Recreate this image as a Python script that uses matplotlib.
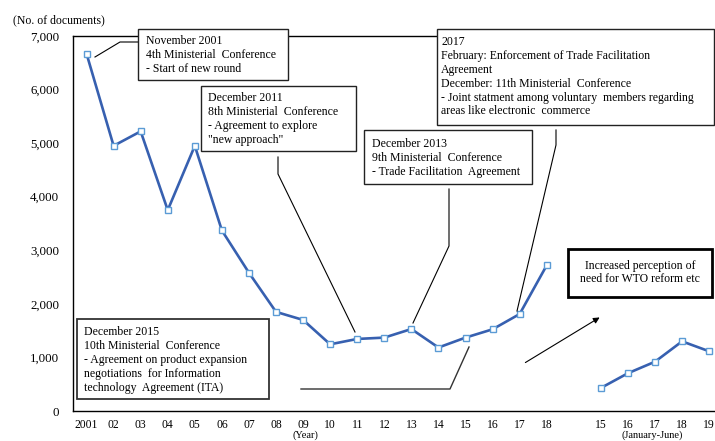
import matplotlib
matplotlib.use("Agg")
import matplotlib.pyplot as plt
from matplotlib.patches import Rectangle, FancyArrowPatch
from matplotlib.lines import Line2D
from matplotlib.ticker import FuncFormatter

# ---- data ----
years_labels = ["2001", "02", "03", "04", "05", "06", "07", "08", "09",
                "10", "11", "12", "13", "14", "15", "16", "17", "18"]
docs_per_year = [6670, 4950, 5220, 3750, 4950, 3370, 2580, 1850, 1700,
                 1245, 1345, 1370, 1530, 1185, 1370, 1525, 1810, 2720]
half_labels = ["15", "16", "17", "18", "19"]
docs_jan_jun = [430, 705, 920, 1300, 1115]
y_ticks = [0, 1000, 2000, 3000, 4000, 5000, 6000, 7000]

W, H = 715, 441
plt.rcParams["font.family"] = ["Liberation Serif", "DejaVu Serif"]
fig = plt.figure(figsize=(W / 100, H / 100), dpi=100)

def P(x, y):
    return (x / W, 1 - y / H)

# axes placement (pixel based)
step = 27.07
left_px, top_px, bottom_px = 73, 36, 411
ax = fig.add_axes([left_px / W, 1 - bottom_px / H, 24 * step / W, (bottom_px - top_px) / H])

x1 = list(range(len(years_labels)))
x2 = [len(years_labels) + 1 + i for i in range(len(half_labels))]

line_kw = dict(color="#3760b0", lw=1.9, marker="s", markersize=4.6,
               markerfacecolor="white", markeredgecolor="#5b9bd5",
               markeredgewidth=1.0, zorder=3)
ax.plot(x1, docs_per_year, **line_kw)
ax.plot(x2, docs_jan_jun, **line_kw)

ax.set_xlim(-0.5, 23.5)
ax.set_ylim(0, 7000)
ax.set_yticks(y_ticks)
ax.yaxis.set_major_formatter(FuncFormatter(lambda v, p: f"{int(v):,}"))
ax.set_xticks(x1 + x2)
ax.set_xticklabels(years_labels + half_labels)
ax.tick_params(axis="both", length=0)
ax.tick_params(axis="x", pad=5.5, labelsize=8.4)
ax.tick_params(axis="y", pad=10, labelsize=9.3)
for s in ax.spines.values():
    s.set_linewidth(1.0)
    s.set_color("black")

fs = 8.5
fig.text(*P(13, 20), "(No. of documents)", fontsize=fs, va="center", ha="left")
fig.text(*P(305, 440), "(Year)", fontsize=7.5, va="bottom", ha="center")
fig.text(*P(652, 440), "(January-June)", fontsize=7.5, va="bottom", ha="center")

def leader(pts, color="black", lw=0.8):
    xs = [p[0] / W for p in pts]
    ys = [1 - p[1] / H for p in pts]
    fig.add_artist(Line2D(xs, ys, color=color, lw=lw, transform=fig.transFigure, zorder=4))

def box(x0, y0, x1_, y1, lines, tx, ty0, lw=1.0, ec="#222222", center=False, spacing=13.9):
    fig.add_artist(Rectangle(P(x0, y1), (x1_ - x0) / W, (y1 - y0) / H,
                             transform=fig.transFigure, facecolor="white",
                             edgecolor=ec, lw=lw, zorder=5))
    for i, t in enumerate(lines):
        fig.text(*P(tx, ty0 + i * spacing), t, fontsize=fs, va="center",
                 ha="center" if center else "left", zorder=6)

# leader lines
leader([(95, 57), (120, 42), (138, 42)])
leader([(278, 157), (278, 174), (355, 332)])
leader([(449, 189), (449, 246), (413, 323)])
leader([(556, 130), (556, 145), (517, 311)])
leader([(301, 389), (450, 389), (469, 347)], color="#333333", lw=1.0)

# annotation boxes
box(138, 29, 288, 80, ["November 2001", "4th Ministerial  Conference", "- Start of new round"],
    146, 41)
box(201, 86, 356, 151, ["December 2011", "8th Ministerial  Conference",
                        "- Agreement to explore", "\"new approach\""], 208, 98)
box(364, 130, 532, 184, ["December 2013", "9th Ministerial  Conference",
                         "- Trade Facilitation  Agreement"], 372, 144)
box(437, 29, 714, 125, ["2017", "February: Enforcement of Trade Facilitation", "Agreement",
                        "December: 11th Ministerial  Conference",
                        "- Joint statment among voluntary  members regarding",
                        "areas like electronic  commerce"], 441, 42)
box(77, 319, 269, 399, ["December 2015", "10th Ministerial  Conference",
                        "- Agreement on product expansion",
                        "negotiations  for Information",
                        "technology  Agreement (ITA)"], 84, 332, ec="#333333", lw=1.3)
box(568, 249, 712, 297, ["Increased perception of", "need for WTO reform etc"],
    640, 266, lw=2.0, ec="black", center=True, spacing=13.5)

arrow = FancyArrowPatch(P(523, 364), P(602, 316), transform=fig.transFigure,
                        arrowstyle="-|>", mutation_scale=9, lw=0.8, color="black", zorder=4)
fig.add_artist(arrow)

fig.savefig("out.png", dpi=100)
